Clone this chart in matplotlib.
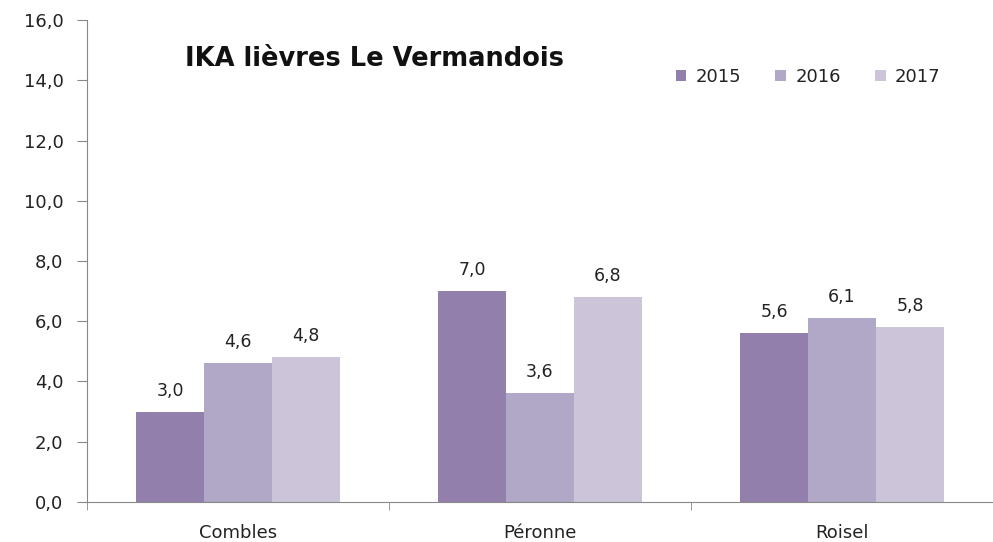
import numpy as np
import matplotlib.pyplot as plt
from matplotlib.ticker import FuncFormatter

sites = ['Combles', 'Péronne', 'Roisel']
years = ['2015', '2016', '2017']
ika_2015 = [3.0, 7.0, 5.6]
ika_2016 = [4.6, 3.6, 6.1]
ika_2017 = [4.8, 6.8, 5.8]
colors = ['#937fac', '#b1a7c6', '#ccc5d9']

fig = plt.figure(figsize=(9.93, 5.42), dpi=100)
ax = fig.add_axes([0.0876, 0.074, 0.9124, 0.889])

x = np.arange(len(sites))
w = 0.225
for i, vals in enumerate([ika_2015, ika_2016, ika_2017]):
    bars = ax.bar(x + (i - 1) * w, vals, w, color=colors[i], label=years[i])
    for b, v in zip(bars, vals):
        ax.text(b.get_x() + w / 2, v + 0.4, ('%.1f' % v).replace('.', ','),
                ha='center', va='bottom', fontsize=12.5, color='#222222')

ax.set_xlim(-0.5, 2.5)
ax.set_ylim(0, 16)
ax.set_yticks(np.arange(0, 17, 2))
ax.yaxis.set_major_formatter(FuncFormatter(lambda v, p: ('%.1f' % v).replace('.', ',')))
ax.set_xticks(x)
ax.set_xticklabels(sites)
ax.set_xticks([-0.5, 0.5, 1.5], minor=True)
ax.tick_params(axis='x', which='major', length=0, pad=16, labelsize=13, labelcolor='#222222')
ax.tick_params(axis='x', which='minor', length=6, color='#888888', direction='out')
ax.tick_params(axis='y', length=7, color='#888888', labelsize=13, pad=10, labelcolor='#222222')

for s in ['top', 'right']:
    ax.spines[s].set_visible(False)
for s in ['left', 'bottom']:
    ax.spines[s].set_color('#888888')

ax.text(0.108, 0.92, 'IKA lièvres Le Vermandois', transform=ax.transAxes,
        fontsize=18.5, fontweight='bold', color='#111111', va='center')

ax.legend(loc='upper right', bbox_to_anchor=(0.96, 0.935), ncol=3, frameon=False,
          fontsize=13, handlelength=0.6, handleheight=0.6, columnspacing=1.9,
          handletextpad=0.5, labelcolor='#222222')

fig.savefig('out.png', dpi=100)
